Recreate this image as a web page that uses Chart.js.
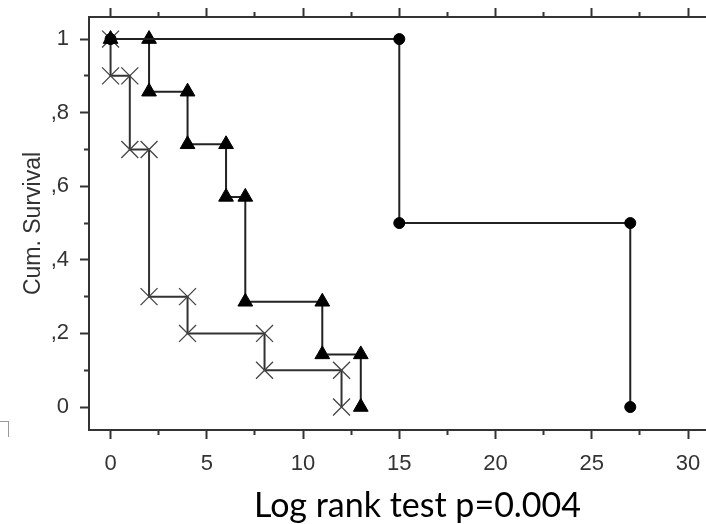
<!DOCTYPE html>
<html><head><meta charset="utf-8">
<script src="https://cdn.jsdelivr.net/npm/chart.js@4.4.1/dist/chart.umd.min.js"></script>
<style>
html,body{margin:0;padding:0;background:#fff;overflow:hidden;width:706px;height:524px;}
#wrap{position:relative;width:706px;height:524px;overflow:hidden;background:#fff;}
#c{position:absolute;left:0;top:0;display:block;}
#note{position:absolute;left:0;width:835px;top:487px;line-height:34px;text-align:center;font-family:Lato,"Open Sans",sans-serif;font-size:34px;color:#000;white-space:nowrap;}
#mark{position:absolute;left:0;top:421px;width:8px;height:15px;border-top:1px solid #999;border-right:1px solid #999;}
</style></head><body>
<div id="wrap"><canvas id="c" width="724" height="524"></canvas>
<div id="note">Log rank test p=0.004</div>
<div id="mark"></div></div>
<script>
// Group with circles
const timesA = [15, 27];
const survA = [0.5, 0];
// Group with triangles
const timesB = [2, 4, 6, 7, 11, 13];
const survB = [0.857, 0.714, 0.571, 0.286, 0.143, 0];
// Group with crosses
const timesC = [0, 1, 2, 4, 8, 12];
const survC = [0.9, 0.7, 0.3, 0.2, 0.1, 0];

const xTickLabels = ['0', '5', '10', '15', '20', '25', '30'];
const yTickLabels = ['0', ',2', ',4', ',6', ',8', '1'];
const yTitle = 'Cum. Survival';

function kmSteps(times, surv) {
  const pts = [{x: 0, y: 1}];
  let prev = 1;
  times.forEach((t, i) => {
    const last = pts[pts.length - 1];
    if (!(last.x === t && last.y === prev)) pts.push({x: t, y: prev});
    pts.push({x: t, y: surv[i]});
    prev = surv[i];
  });
  return pts;
}

const FONT = 'Liberation Sans, Arial, sans-serif';
const AX = '#333';
const isMajorX = c => c.tick && Math.abs(c.tick.value / 5 - Math.round(c.tick.value / 5)) < 1e-6;
const isMajorY = c => c.tick && Math.round(c.tick.value * 10) % 2 === 0;

const xMin = -1.12, xMax = 31.87, yMin = -0.0625, yMax = 1.06;

new Chart(document.getElementById('c'), {
  type: 'scatter',
  data: {
    datasets: [
      { data: kmSteps(timesA, survA), showLine: true, borderColor: '#222', borderWidth: 2,
        pointStyle: 'circle', pointRadius: 5.5, pointBackgroundColor: '#000', pointBorderColor: '#000', pointBorderWidth: 1 },
      { data: kmSteps(timesB, survB), showLine: true, borderColor: '#222', borderWidth: 2,
        pointStyle: 'triangle', pointRadius: 8.5, pointBackgroundColor: '#000', pointBorderColor: '#000', pointBorderWidth: 1 },
      { data: kmSteps(timesC, survC), showLine: true, borderColor: '#333', borderWidth: 2,
        pointStyle: 'crossRot', pointRadius: 12, pointBackgroundColor: '#444', pointBorderColor: '#444', pointBorderWidth: 1.3 }
    ]
  },
  options: {
    responsive: false,
    animation: false,
    events: [],
    layout: { padding: 0, autoPadding: false },
    plugins: { legend: { display: false }, tooltip: { enabled: false } },
    scales: {
      x: {
        type: 'linear', position: 'bottom', min: xMin, max: xMax,
        afterFit: s => { s.height = 94; s.paddingLeft = 0; s.paddingRight = 0; },
        border: { display: true, color: AX, width: 2 },
        grid: { drawOnChartArea: false, drawTicks: true, tickLength: 9, tickColor: AX, tickWidth: 2,
                tickBorderDash: c => isMajorX(c) ? [] : [4, 100] },
        ticks: { stepSize: 2.5, includeBounds: false, maxRotation: 0, autoSkip: false, padding: 12,
                 color: '#333', font: { family: FONT, size: 22 },
                 callback: v => { const k = v / 5; return Math.abs(k - Math.round(k)) < 1e-6 ? xTickLabels[Math.round(k)] : ''; } }
      },
      xTop: {
        type: 'linear', axis: 'x', position: 'top', min: xMin, max: xMax,
        afterFit: s => { s.height = 17; s.paddingLeft = 0; s.paddingRight = 0; },
        border: { display: true, color: AX, width: 2 },
        grid: { drawOnChartArea: false, drawTicks: true, tickLength: 9, tickColor: AX, tickWidth: 2,
                tickBorderDash: c => isMajorX(c) ? [] : [0, 4, 4, 100] },
        ticks: { display: false, stepSize: 2.5, includeBounds: false, autoSkip: false,
                 callback: v => '' + v }
      },
      y: {
        type: 'linear', position: 'left', min: yMin, max: yMax,
        afterFit: s => { s.width = 89; s.paddingTop = 0; s.paddingBottom = 0; },
        border: { display: true, color: AX, width: 2 },
        grid: { drawOnChartArea: false, drawTicks: true, tickLength: 9, tickColor: AX, tickWidth: 2,
                tickBorderDash: c => isMajorY(c) ? [] : [0, 4, 4, 100] },
        title: { display: true, text: yTitle, color: '#333', font: { family: FONT, size: 23 }, padding: { top: 20, bottom: 0 } },
        ticks: { stepSize: 0.1, includeBounds: false, autoSkip: false, padding: 11,
                 color: '#333', font: { family: FONT, size: 22 },
                 callback: v => { const k = Math.round(v * 10); return k % 2 === 0 ? yTickLabels[k / 2] : ''; } }
      }
    }
  }
});
</script>
</body></html>
